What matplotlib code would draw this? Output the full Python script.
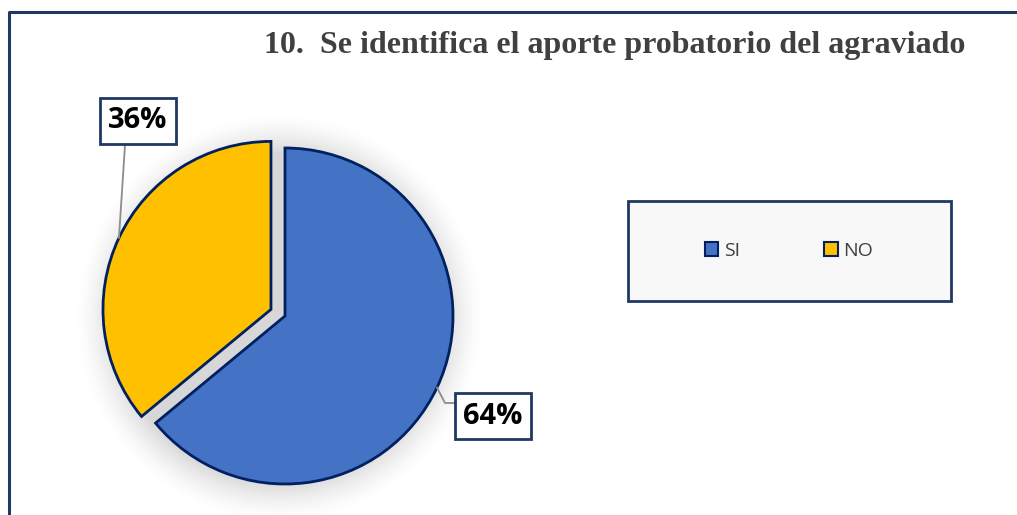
import matplotlib.pyplot as plt
import numpy as np
from matplotlib.patches import Rectangle, Patch

labels = ['SI', 'NO']
values = [64, 36]
colors = ['#4472C4', '#FFC000']

W, H = 1017, 515
fig = plt.figure(figsize=(W / 100, H / 100), dpi=100)
ax = fig.add_axes([0, 0, 1, 1])

cx, cy, r = 285, H - 316, 168
explode = [0, 15.5]  # pie explode is in data units here

# soft shadow around the pie
yy, xx = np.mgrid[0:H, 0:W]
d = np.hypot(xx - cx + 6, yy - cy + 2)
alpha = 0.28 * np.clip(1 - (d - r + 4) / 40, 0, 1) ** 1.5
shadow = np.zeros((H, W, 4))
shadow[..., :3] = 0.45
shadow[..., 3] = alpha
ax.imshow(shadow, extent=[0, W, 0, H], origin='lower', zorder=1, interpolation='bilinear')

wedges, _ = ax.pie(values, colors=colors, explode=explode, startangle=90,
                   counterclock=False, center=(cx, cy), radius=r,
                   wedgeprops=dict(edgecolor='#002060', linewidth=2, zorder=2),
                   frame=True)
ax.set_xlim(0, W)
ax.set_ylim(0, H)
ax.set_aspect('equal')
ax.axis('off')

# chart frame (only top and left edges visible in the crop)
ax.plot([9, 9, W], [0, H - 12, H - 12], color='#1F3864', lw=2.2, solid_capstyle='butt')

ax.text(615, H - 45, '10.  Se identifica el aporte probatorio del agraviado',
        ha='center', va='center', fontsize=23, fontweight='bold',
        family='Liberation Serif', color='#404040')

# data labels with leader lines
box = dict(boxstyle='square,pad=0.28', facecolor='white', edgecolor='#1F3864', linewidth=2)


def arc_point(w, frac):
    ang = np.deg2rad(w.theta1 + (w.theta2 - w.theta1) * frac)
    c = w.center
    return c[0] + w.r * np.cos(ang), c[1] + w.r * np.sin(ang)


px, py = arc_point(wedges[1], 0.5)
ax.plot([px, 125], [py, H - 145], color='#8C8C8C', lw=1.3, zorder=3)
ax.text(138, H - 121, f'{values[1]}%', ha='center', va='center', fontsize=21,
        fontweight='bold', family='Open Sans', color='black', bbox=box, zorder=4)

px, py = arc_point(wedges[0], 0.5)
ax.plot([px, 445, 458], [py, H - 403, H - 403], color='#8C8C8C', lw=1.3, zorder=3)
ax.text(493, H - 416, f'{values[0]}%', ha='center', va='center', fontsize=21,
        fontweight='bold', family='Open Sans', color='black', bbox=box, zorder=4)

# legend box
ax.add_patch(Rectangle((628, H - 301), 323, 100, facecolor='#F8F8F8',
                       edgecolor='#1F3864', linewidth=2, zorder=3))
handles = [Patch(facecolor=c, edgecolor='#002060', linewidth=1.5) for c in colors]
leg = ax.legend(handles, labels, loc='center', bbox_to_anchor=(789 / W, (H - 251) / H),
                ncol=2, frameon=False, handlelength=0.7, handleheight=0.7,
                handletextpad=0.3, columnspacing=4.3,
                prop={'family': 'Open Sans', 'size': 14})
for t in leg.get_texts():
    t.set_color('#404040')
leg.set_zorder(5)

fig.savefig('out.png', dpi=100)
